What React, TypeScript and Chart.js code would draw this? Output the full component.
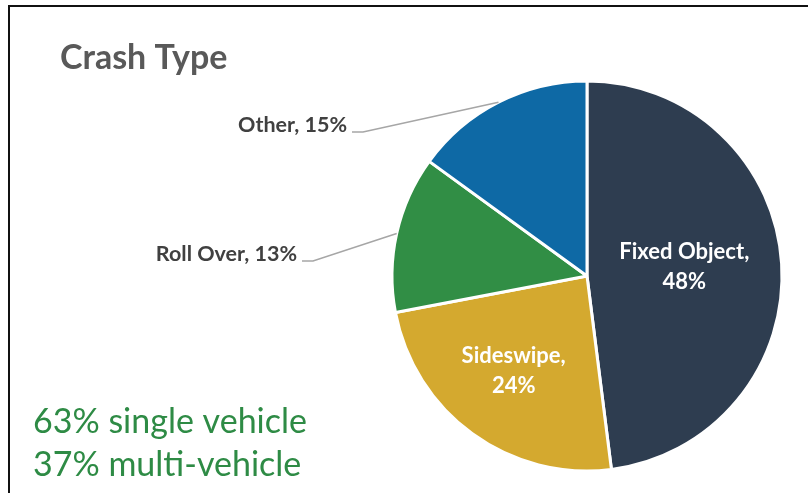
import React, { useEffect, useRef } from "react";
import { Chart, registerables } from "chart.js";

Chart.register(...registerables);

const categories = ["Fixed Object", "Sideswipe", "Roll Over", "Other"];
const values = [48, 24, 13, 15];
const colors = ["#2E3D50", "#D4A92F", "#318E45", "#0E69A5"];
const titleText = "Crash Type";
const noteLines = ["63% single vehicle", "37% multi-vehicle"];

const FONT = "Lato, 'Open Sans', sans-serif";

const overlay = {
  id: "overlay",
  afterDraw(chart: any) {
    const ctx = chart.ctx as CanvasRenderingContext2D;
    const meta = chart.getDatasetMeta(0);
    const arcs = meta.data as any[];
    const cx = arcs[0].x;
    const cy = arcs[0].y;
    const R = arcs[0].outerRadius;
    ctx.save();

    // frame
    ctx.strokeStyle = "#111";
    ctx.lineWidth = 2;
    ctx.beginPath();
    ctx.moveTo(9, 493);
    ctx.lineTo(9, 6);
    ctx.lineTo(808, 6);
    ctx.stroke();

    // title
    ctx.fillStyle = "#595959";
    ctx.font = `bold 34px ${FONT}`;
    ctx.textAlign = "left";
    ctx.textBaseline = "middle";
    ctx.fillText(titleText, 60, 58);

    // note
    ctx.fillStyle = "#2E8B45";
    ctx.font = `34px ${FONT}`;
    ctx.fillText(noteLines[0], 33, 422);
    ctx.fillText(noteLines[1], 33, 465);

    // inside labels
    const inside: Record<number, [number, number]> = { 0: [0, -3], 1: [-16, 16] };
    ctx.fillStyle = "#FFFFFF";
    ctx.font = `bold 22px ${FONT}`;
    ctx.textAlign = "center";
    Object.keys(inside).forEach((k) => {
      const i = Number(k);
      const p = arcs[i].tooltipPosition();
      const [dx, dy] = inside[i];
      ctx.fillText(categories[i] + ",", p.x + dx, p.y + dy - 15);
      ctx.fillText(values[i] + "%", p.x + dx, p.y + dy + 15);
    });

    // outside labels with leader lines
    const outside: Record<number, [number, number]> = { 3: [-224, -144], 2: [-274, -15] };
    Object.keys(outside).forEach((k) => {
      const i = Number(k);
      const a = arcs[i];
      const mid = (a.startAngle + a.endAngle) / 2;
      const ex = cx + Math.cos(mid) * R;
      const ey = cy + Math.sin(mid) * R;
      const bx = cx + outside[i][0];
      const by = cy + outside[i][1];
      ctx.strokeStyle = "#A6A6A6";
      ctx.lineWidth = 1.5;
      ctx.beginPath();
      ctx.moveTo(ex, ey);
      ctx.lineTo(bx, by);
      ctx.lineTo(bx - 11, by);
      ctx.stroke();
      ctx.fillStyle = "#404040";
      ctx.font = `bold 21.5px ${FONT}`;
      ctx.textAlign = "right";
      ctx.textBaseline = "middle";
      ctx.fillText(`${categories[i]}, ${values[i]}%`, bx - 16, by - 7);
    });

    ctx.restore();
  },
};

export default function App() {
  const ref = useRef<HTMLCanvasElement>(null);
  useEffect(() => {
    document.body.style.margin = "0";
    const chart = new Chart(ref.current!, {
      type: "pie",
      data: {
        labels: categories,
        datasets: [
          {
            data: values,
            backgroundColor: colors,
            borderColor: "#FFFFFF",
            borderWidth: 3,
          },
        ],
      },
      options: {
        animation: false,
        responsive: false,
        radius: 195,
        layout: { padding: { left: 393, right: 27, top: 80, bottom: 21 } },
        plugins: { legend: { display: false }, tooltip: { enabled: false } },
      } as any,
      plugins: [overlay],
    });
    return () => chart.destroy();
  }, []);
  return (
    <div style={{ width: 808, height: 493, background: "#fff" }}>
      <canvas ref={ref} width={808} height={493} />
    </div>
  );
}
